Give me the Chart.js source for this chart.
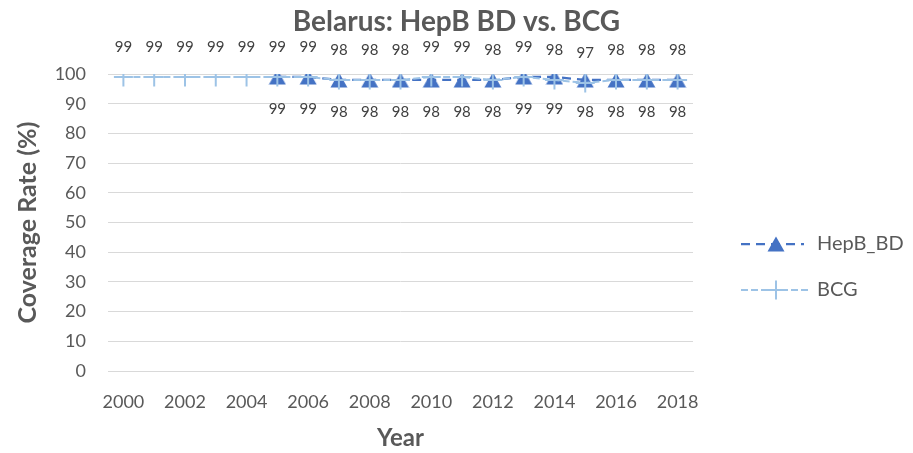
<!DOCTYPE html>
<html>
<head>
<meta charset="utf-8">
<script src="https://cdn.jsdelivr.net/npm/chart.js@4.4.1/dist/chart.umd.min.js"></script>
<style>
  html, body { margin: 0; padding: 0; background: #fff; }
  #wrap { width: 913px; height: 453px; }
</style>
</head>
<body>
<div id="wrap"><canvas id="chart"></canvas></div>
<script>
// Chart data
const years = ['2000', '2001', '2002', '2003', '2004', '2005', '2006', '2007', '2008', '2009',
               '2010', '2011', '2012', '2013', '2014', '2015', '2016', '2017', '2018'];
const hepbBD = [null, null, null, null, null, 99, 99, 98, 98, 98, 98, 98, 98, 99, 99, 98, 98, 98, 98];
const bcg = [99, 99, 99, 99, 99, 99, 99, 98, 98, 98, 99, 99, 98, 99, 98, 97, 98, 98, 98];
const seriesNames = ['HepB_BD', 'BCG'];
const chartTitle = 'Belarus: HepB BD vs. BCG';

const FONT = 'Lato, "Open Sans", sans-serif';
const GREY = '#595959';

// triangle marker centred in its box (the built-in one sits too high)
function makeTriangle(color) {
    const c = document.createElement('canvas');
    c.width = 18;
    c.height = 16;
    const g = c.getContext('2d');
    g.fillStyle = color;
    g.beginPath();
    g.moveTo(9, 0.5);
    g.lineTo(17.5, 15.5);
    g.lineTo(0.5, 15.5);
    g.closePath();
    g.fill();
    return c;
}
const triangle = makeTriangle('#4472C4');

// title centred on the whole picture
const centreTitle = {
    id: 'centreTitle',
    afterDraw(chart) {
        const ctx = chart.ctx;
        ctx.save();
        ctx.font = 'bold 28px ' + FONT;
        ctx.fillStyle = GREY;
        ctx.textAlign = 'center';
        ctx.textBaseline = 'middle';
        ctx.fillText(chartTitle, chart.width / 2, 22);
        ctx.restore();
    }
};

// draws the value next to every point (above for BCG, below for HepB)
const valueLabels = {
    id: 'valueLabels',
    afterDatasetsDraw(chart) {
        const ctx = chart.ctx;
        ctx.save();
        ctx.font = '15px ' + FONT;
        ctx.fillStyle = '#404040';
        ctx.textAlign = 'center';
        ctx.textBaseline = 'middle';
        chart.data.datasets.forEach((ds, i) => {
            const meta = chart.getDatasetMeta(i);
            meta.data.forEach((pt, j) => {
                const v = ds.data[j];
                if (v === null || v === undefined) return;
                ctx.fillText(String(v), pt.x, pt.y + ds.labelOffset);
            });
        });
        ctx.restore();
    }
};

// legend on the right, line + marker like the spreadsheet one
const sideLegend = {
    id: 'sideLegend',
    afterDraw(chart) {
        const ctx = chart.ctx;
        const x0 = 741;
        const rows = [244, 290];
        chart.data.datasets.forEach((ds, i) => {
            const y = rows[i];
            ctx.save();
            ctx.strokeStyle = ds.borderColor;
            ctx.lineWidth = ds.borderWidth;
            ctx.setLineDash(ds.borderDash);
            ctx.beginPath();
            ctx.moveTo(x0, y);
            ctx.lineTo(x0 + ds.legendLen, y);
            ctx.stroke();
            ctx.setLineDash([]);
            ctx.fillStyle = ds.pointBackgroundColor;
            ctx.strokeStyle = ds.pointBorderColor;
            Chart.helpers.drawPoint(ctx, {
                pointStyle: ds.pointStyle,
                radius: ds.pointRadius,
                borderWidth: ds.pointBorderWidth,
                rotation: 0
            }, x0 + 35, y);
            ctx.fillStyle = GREY;
            ctx.font = '20px ' + FONT;
            ctx.textAlign = 'left';
            ctx.textBaseline = 'middle';
            ctx.fillText(ds.label, 817, y);
            ctx.restore();
        });
    }
};

new Chart(document.getElementById('chart').getContext('2d'), {
    type: 'line',
    data: {
        labels: years,
        datasets: [
            {
                label: seriesNames[0],
                data: hepbBD,
                borderColor: '#4472C4',
                borderWidth: 2.25,
                borderDash: [9, 6],
                pointStyle: triangle,
                pointRadius: 9,
                pointHoverRadius: 9,
                pointBackgroundColor: '#4472C4',
                pointBorderColor: '#4472C4',
                pointBorderWidth: 1,
                labelOffset: 32,
                legendLen: 63,
                order: 2
            },
            {
                label: seriesNames[1],
                data: bcg,
                borderColor: '#9DC3E6',
                borderWidth: 2,
                borderDash: [7, 3],
                pointStyle: 'cross',
                pointRadius: 9.5,
                pointHoverRadius: 9.5,
                pointBackgroundColor: '#9DC3E6',
                pointBorderColor: '#9DC3E6',
                pointBorderWidth: 2,
                labelOffset: -30,
                legendLen: 67,
                order: 1
            }
        ]
    },
    options: {
        responsive: true,
        maintainAspectRatio: false,
        animation: false,
        layout: {
            padding: { left: 13, right: 220, top: 74, bottom: 0 }
        },
        scales: {
            x: {
                offset: true,
                grid: { display: false, drawTicks: false },
                border: { display: true, color: '#d9d9d9', width: 1 },
                ticks: {
                    autoSkip: false,
                    maxRotation: 0,
                    padding: 20,
                    color: GREY,
                    font: { family: FONT, size: 18 },
                    callback: function (value, index) {
                        return index % 2 === 0 ? this.getLabelForValue(value) : '';
                    }
                },
                title: {
                    display: true,
                    text: 'Year',
                    color: GREY,
                    font: { family: FONT, size: 24, weight: 'bold' },
                    padding: { top: 0, bottom: 0 }
                },
                afterFit(scale) { scale.height = 82; }
            },
            y: {
                min: 0,
                max: 100,
                ticks: {
                    stepSize: 10,
                    padding: 22,
                    color: GREY,
                    font: { family: FONT, size: 18 }
                },
                grid: { color: '#d9d9d9', drawTicks: false },
                border: { display: false },
                title: {
                    display: true,
                    text: 'Coverage Rate (%)',
                    color: GREY,
                    font: { family: FONT, size: 25, weight: 'bold' },
                    padding: { top: 0, bottom: 0 }
                },
                afterFit(scale) { scale.width = 95; }
            }
        },
        plugins: {
            legend: { display: false },
            tooltip: { enabled: false },
            title: { display: false }
        }
    },
    plugins: [valueLabels, sideLegend, centreTitle]
});
</script>
</body>
</html>
